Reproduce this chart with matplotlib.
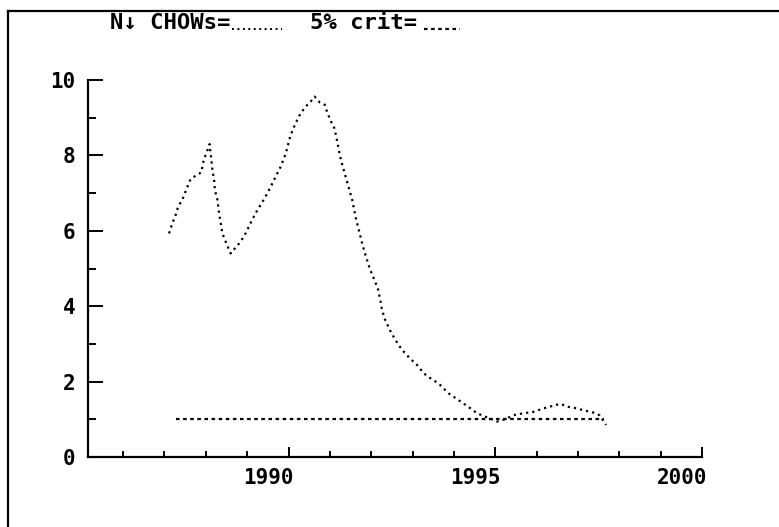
import numpy as np
import matplotlib
matplotlib.use("Agg")
import matplotlib.pyplot as plt
import matplotlib.transforms as mtransforms
from matplotlib.lines import Line2D

# N-down Chow statistics, scaled by their 5% critical value
years = [1987.11, 1987.19, 1987.27, 1987.33, 1987.43, 1987.54, 1987.63, 1987.78,
         1987.89, 1987.95, 1988.04, 1988.09, 1988.13, 1988.16, 1988.20, 1988.22,
         1988.28, 1988.32, 1988.36, 1988.40, 1988.48, 1988.60, 1988.84, 1988.96,
         1989.08, 1989.20, 1989.32, 1989.44, 1989.57, 1989.69, 1989.81, 1989.93,
         1990.05, 1990.17, 1990.29, 1990.41, 1990.53, 1990.63, 1990.76, 1990.88,
         1990.93, 1991.01, 1991.11, 1991.18, 1991.24, 1991.30, 1991.38, 1991.46,
         1991.54, 1991.62, 1991.70, 1991.78, 1991.86, 1991.96, 1992.06, 1992.16,
         1992.22, 1992.26, 1992.34, 1992.45, 1992.54, 1992.66, 1992.79, 1992.93,
         1993.11, 1993.27, 1993.43, 1993.63, 1993.87, 1993.99, 1994.23, 1994.40,
         1994.56, 1994.76, 1994.96, 1995.04, 1995.24, 1995.44, 1995.68, 1995.93,
         1996.17, 1996.37, 1996.57, 1996.77, 1996.97, 1997.17, 1997.37, 1997.52,
         1997.68]
chows = [5.93, 6.20, 6.42, 6.64, 6.82, 7.13, 7.37, 7.48,
         7.55, 7.88, 8.14, 8.30, 7.92, 7.61, 7.35, 7.08,
         6.82, 6.46, 6.20, 5.93, 5.71, 5.40, 5.71, 5.93,
         6.20, 6.46, 6.68, 6.90, 7.17, 7.44, 7.70, 8.04,
         8.54, 8.85, 9.11, 9.29, 9.42, 9.56, 9.40, 9.34,
         9.16, 8.94, 8.72, 8.36, 8.01, 7.75, 7.44, 7.13,
         6.82, 6.37, 6.02, 5.67, 5.36, 5.01, 4.74, 4.47,
         4.16, 3.90, 3.63, 3.37, 3.19, 2.97, 2.79, 2.62,
         2.44, 2.22, 2.09, 1.95, 1.69, 1.60, 1.42, 1.29,
         1.16, 1.07, 0.98, 0.94, 1.00, 1.11, 1.16, 1.20,
         1.29, 1.35, 1.41, 1.33, 1.29, 1.23, 1.18, 1.11,
         0.85]
crit_years = [1987.27, 1997.63]
crit = [1.0, 1.0]

ytick_vals = [0, 2, 4, 6, 8, 10]
ytick_labels = ["0", "2", "4", "6", "8", "10"]
xtick_vals = [1990, 1995, 2000]
xtick_labels = ["1990", "1995", "2000"]

W, H = 779, 527
fig = plt.figure(figsize=(W / 100, H / 100), dpi=100)
ax = fig.add_axes([88 / W, 1 - 457 / H, (702 - 88) / W, (457 - 80) / H])

ax.plot(years, chows, color="black", lw=1.6, linestyle=(0, (1, 1.8)))
ax.plot(crit_years, crit, color="black", lw=1.6, linestyle=(0, (1.6, 1.6)))

ax.set_xlim(1985.15, 2000)
ax.set_ylim(0, 10)

for side in ["top", "right"]:
    ax.spines[side].set_visible(False)
for side in ["left", "bottom"]:
    ax.spines[side].set_linewidth(1.6)

tick_font = dict(family="DejaVu Sans Mono", weight="bold", size=15)
head_font = dict(family="DejaVu Sans Mono", weight="bold", size=16)

ax.set_yticks(ytick_vals)
ax.set_yticklabels(ytick_labels, fontdict=tick_font)
ax.set_yticks(np.arange(1, 10, 2), minor=True)
ax.set_xticks(xtick_vals)
ax.set_xticklabels(xtick_labels, fontdict=tick_font)
ax.set_xticks(np.arange(1986, 2000), minor=True)

ax.tick_params(axis="y", which="major", direction="in", length=11, width=1.4, pad=9)
ax.tick_params(axis="y", which="minor", direction="in", length=6, width=1.4)
ax.tick_params(axis="x", which="major", direction="in", length=7, width=1.4, pad=8)
ax.tick_params(axis="x", which="minor", direction="in", length=4, width=1.4)

shift = mtransforms.ScaledTranslation(5 / 100, 0, fig.dpi_scale_trans)
for lab in ax.get_xticklabels():
    lab.set_ha("right")
    lab.set_transform(lab.get_transform() + shift)

# header line with line-style samples
fig.text(110 / W, 1 - 23 / H, "N\u2193 CHOWs=", va="center", ha="left", **head_font)
fig.text(310 / W, 1 - 23 / H, "5% crit=", va="center", ha="left", **head_font)
fig.add_artist(Line2D([232 / W, 282 / W], [1 - 29 / H, 1 - 29 / H], color="black",
                      lw=1.4, linestyle=(0, (1, 1.8)), transform=fig.transFigure))
fig.add_artist(Line2D([424 / W, 460 / W], [1 - 29 / H, 1 - 29 / H], color="black",
                      lw=1.6, linestyle=(0, (1.6, 1.6)), transform=fig.transFigure))

# outer frame (left and top edges only)
fig.add_artist(Line2D([8 / W, 8 / W], [0, 1 - 11 / H], color="black", lw=1.6,
                      transform=fig.transFigure))
fig.add_artist(Line2D([8 / W, 1], [1 - 11 / H, 1 - 11 / H], color="black", lw=1.6,
                      transform=fig.transFigure))

fig.savefig("out.png", dpi=100)
